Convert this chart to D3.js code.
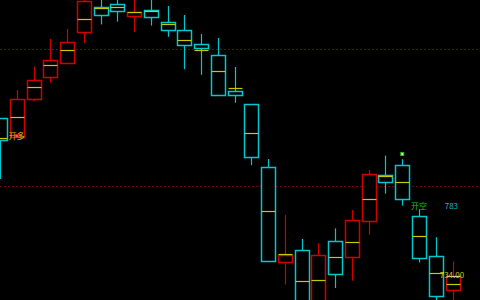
<!DOCTYPE html>
<html><head><meta charset="utf-8">
<script src="https://cdn.jsdelivr.net/npm/d3@7"></script>
<style>html,body{margin:0;padding:0;background:#000;}svg{display:block;}</style>
</head><body>
<script>
const categories = d3.range(28).map(i => "K" + (i + 1));
const opens  = [775.5,770.75,780.2,785.7,789.2,796.9,803.2,803.9,801.0,802.6,799.4,797.4,794.1,791.2,782.25,778.9,763.3,739.4,742.5,727.0,744.8,740.7,749.8,761.2,763.7,750.9,740.9,732.4];
const closes = [770.0,780.2,785.0,790.0,794.4,804.75,801.1,802.1,801.9,800.8,797.3,793.6,793.1,781.2,781.3,765.7,739.9,741.25,727.5,741.25,736.5,749.9,761.5,759.5,755.3,740.4,730.8,736.0];
const highs  = [775.5,782.5,788.3,795.25,797.75,806.0,805.5,805.5,805.5,805.5,803.5,801.25,796.5,795.5,788.25,778.9,765.25,751.25,745.25,744.2,747.9,752.5,762.5,766.1,765.2,752.7,745.7,739.7];
const lows   = [760.25,770.75,779.75,784.3,789.2,794.2,798.9,799.6,797.0,798.6,795.8,787.7,786.3,781.2,779.3,763.7,739.9,733.9,726.0,726.0,733.0,734.8,746.3,756.6,753.6,739.4,728.0,728.0];
const avgs   = [770.5,775.7,783.2,788.7,792.6,800.25,803.0,803.2,801.9,802.25,798.9,794.9,792.4,787.25,782.9,771.8,752.2,741.4,734.75,735.0,740.7,744.5,755.2,761.1,759.4,745.9,736.7,733.9];
const levelLines = [792.7, 758.4];
const signals = [
  {i: 1, price: 771.0, text: "开多", color: "#d8c000", dot: "#ff2020"},
  {i: 24, price: 766.5, text: "", color: "#20d020", dot: "#20d020"}
];
const labels = [
  {i: 25, price: 753.5, text: "开空", color: "#20c020", dx: -8},
  {i: 26, price: 753.5, text: "783", color: "#10b8c8", dx: 9},
  {i: 26, price: 736.2, text: "734.00", color: "#c8c800", dx: 4}
];

const W = 480, H = 300;
const svg = d3.select("body").append("svg").attr("width", W).attr("height", H)
  .style("background", "#000");
svg.append("rect").attr("width", W).attr("height", H).attr("fill", "#000");

const x = d3.scalePoint().domain(categories).range([0, 452.5]);
const y = d3.scaleLinear().domain([805 - 300/4, 805]).range([300, 0]);
const bw = 14;
const UP = "#d00000", DOWN = "#00c8d0", AVG = "#c8c800";

const g = svg.append("g");

g.selectAll("line.level").data(levelLines).join("line")
  .attr("x1", 0).attr("x2", W)
  .attr("y1", d => Math.round(y(d)) + 0.5).attr("y2", d => Math.round(y(d)) + 0.5)
  .attr("stroke", "#800000").attr("stroke-dasharray", "2,2").attr("shape-rendering", "crispEdges");

const data = categories.map((c, i) => ({c, o: opens[i], cl: closes[i], h: highs[i], l: lows[i], a: avgs[i]}));
const px = v => Math.round(v) + 0.5;

const cg = g.selectAll("g.c").data(data).join("g");
cg.each(function(d) {
  const s = d3.select(this);
  const col = d.cl >= d.o ? UP : DOWN;
  const cx = px(x(d.c));
  const top = y(Math.max(d.o, d.cl)), bot = y(Math.min(d.o, d.cl));
  const yt = px(top), yb = yt + Math.max(1, Math.round(bot - top));
  s.append("line").attr("x1", cx).attr("x2", cx).attr("y1", y(d.h)).attr("y2", yt).attr("stroke", col).attr("stroke-width", 1.2);
  s.append("line").attr("x1", cx).attr("x2", cx).attr("y1", yb).attr("y2", y(d.l)).attr("stroke", col).attr("stroke-width", 1.2);
  s.append("rect").attr("x", cx - bw/2).attr("width", bw)
    .attr("y", yt).attr("height", yb - yt)
    .attr("fill", "#000").attr("stroke", col).attr("stroke-width", 1.5);
  s.append("line").attr("x1", cx - bw/2).attr("x2", cx + bw/2)
    .attr("y1", px(y(d.a))).attr("y2", px(y(d.a))).attr("stroke", AVG).attr("stroke-width", 1.2);
});

const last = data[data.length - 1];
g.append("line").attr("x1", px(x(last.c)) - bw/2).attr("x2", px(x(last.c)) + bw/2)
  .attr("y1", px(y(last.cl))).attr("y2", px(y(last.cl))).attr("stroke", "#d8c8c8").attr("stroke-width", 1.2);

const font = "'Noto Sans CJK SC', 'DejaVu Sans', sans-serif";
signals.forEach(s => {
  const cx = x(categories[s.i]), cy = y(s.price);
  if (s.text) {
    svg.append("text").attr("x", cx).attr("y", cy + 3).attr("text-anchor", "middle")
      .attr("font-family", font).attr("font-size", 8).attr("fill", s.color).text(s.text);
  }
  svg.append("rect").attr("x", cx - 2).attr("y", cy - 2).attr("width", 4).attr("height", 4)
    .attr("fill", s.dot).attr("opacity", 0.9);
  svg.append("rect").attr("x", cx - 1).attr("y", cy - 1).attr("width", 2).attr("height", 2)
    .attr("fill", "#e0ffe0").attr("opacity", s.text ? 0.3 : 0.8);
});
labels.forEach(l => {
  svg.append("text").attr("x", x(categories[l.i]) + l.dx).attr("y", y(l.price) + 3)
    .attr("font-family", font).attr("font-size", 8).attr("fill", l.color).text(l.text);
});
</script>
</body></html>
